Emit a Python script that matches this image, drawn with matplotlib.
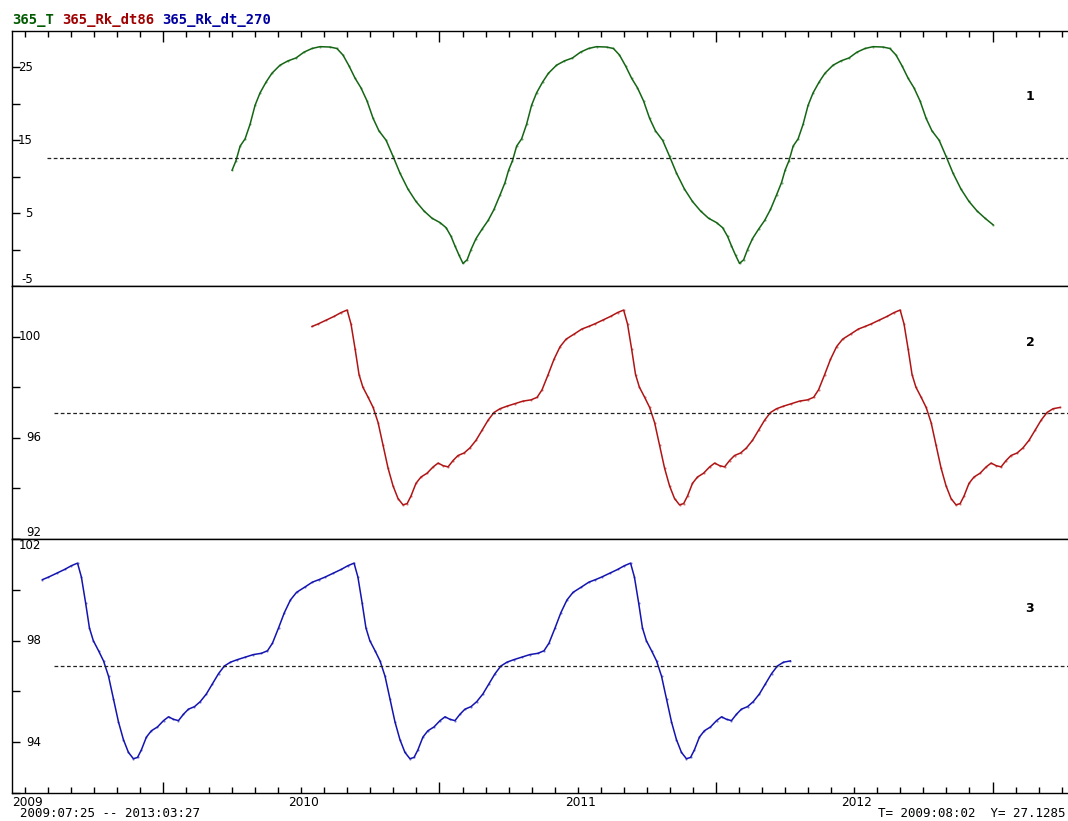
import matplotlib
matplotlib.use("Agg")
import matplotlib.pyplot as plt
import matplotlib.transforms as mtransforms
from matplotlib.ticker import FixedLocator, NullFormatter
import numpy as np

# ---------------- data ----------------
SERIES_NAMES = ["365_T", "365_Rk_dt86", "365_Rk_dt_270"]

T_TIME = [
    2009.796, 2009.810, 2009.825, 2009.843, 2009.861, 2009.879, 2009.897, 2009.919, 2009.940, 2009.969,
    2009.998, 2010.027, 2010.056, 2010.085, 2010.114, 2010.150, 2010.175, 2010.197, 2010.219, 2010.241,
    2010.262, 2010.284, 2010.306, 2010.327, 2010.353, 2010.378, 2010.403, 2010.432, 2010.461, 2010.490,
    2010.519, 2010.548, 2010.570, 2010.588, 2010.602, 2010.617, 2010.631, 2010.646, 2010.660, 2010.678,
    2010.700, 2010.722, 2010.743, 2010.765, 2010.783,
    2010.796, 2010.810, 2010.825, 2010.843, 2010.861, 2010.879, 2010.897, 2010.919, 2010.940, 2010.969,
    2010.998, 2011.027, 2011.056, 2011.085, 2011.114, 2011.150, 2011.175, 2011.197, 2011.219, 2011.241,
    2011.262, 2011.284, 2011.306, 2011.327, 2011.353, 2011.378, 2011.403, 2011.432, 2011.461, 2011.490,
    2011.519, 2011.548, 2011.570, 2011.588, 2011.602, 2011.617, 2011.631, 2011.646, 2011.660, 2011.678,
    2011.700, 2011.722, 2011.743, 2011.765, 2011.783,
    2011.796, 2011.810, 2011.825, 2011.843, 2011.861, 2011.879, 2011.897, 2011.919, 2011.940, 2011.969,
    2011.998, 2012.027, 2012.056, 2012.085, 2012.114, 2012.150, 2012.175, 2012.197, 2012.219, 2012.241,
    2012.262, 2012.284, 2012.306, 2012.327, 2012.353, 2012.378, 2012.403, 2012.432, 2012.461, 2012.490,
    2012.519, 2012.548,
]
T_VALUES = [
    10.9, 12.2, 14.2, 15.2, 17.2, 19.8, 21.5, 23.0, 24.2, 25.3,
    25.9, 26.3, 27.1, 27.6, 27.85, 27.8, 27.6, 26.7, 25.2, 23.5,
    22.2, 20.4, 18.0, 16.3, 15.0, 12.8, 10.5, 8.3, 6.6, 5.3,
    4.3, 3.7, 3.0, 1.8, 0.5, -0.8, -1.9, -1.4, 0.0, 1.5,
    2.8, 4.0, 5.5, 7.5, 9.2,
    10.9, 12.2, 14.2, 15.2, 17.2, 19.8, 21.5, 23.0, 24.2, 25.3,
    25.9, 26.3, 27.1, 27.6, 27.85, 27.8, 27.6, 26.7, 25.2, 23.5,
    22.2, 20.4, 18.0, 16.3, 15.0, 12.8, 10.5, 8.3, 6.6, 5.3,
    4.3, 3.7, 3.0, 1.8, 0.5, -0.8, -1.9, -1.4, 0.0, 1.5,
    2.8, 4.0, 5.5, 7.5, 9.2,
    10.9, 12.2, 14.2, 15.2, 17.2, 19.8, 21.5, 23.0, 24.2, 25.3,
    25.9, 26.3, 27.1, 27.6, 27.85, 27.8, 27.6, 26.7, 25.2, 23.5,
    22.2, 20.4, 18.0, 16.3, 15.0, 12.8, 10.5, 8.3, 6.6, 5.3,
    4.3, 3.4,
]

RK86_TIME = [
    2010.085, 2010.107, 2010.136, 2010.165, 2010.190, 2010.212, 2010.226, 2010.241, 2010.255, 2010.269,
    2010.288, 2010.306, 2010.324, 2010.342, 2010.360, 2010.378, 2010.396, 2010.414, 2010.429, 2010.443,
    2010.461, 2010.479, 2010.501, 2010.523, 2010.541, 2010.559, 2010.577, 2010.595, 2010.613, 2010.635,
    2010.656, 2010.678, 2010.700, 2010.722, 2010.743, 2010.765, 2010.790, 2010.819, 2010.848, 2010.877,
    2010.899, 2010.917, 2010.939, 2010.960, 2010.982, 2011.004, 2011.033, 2011.061,
    2011.085, 2011.107, 2011.136, 2011.165, 2011.190, 2011.212, 2011.226, 2011.241, 2011.255, 2011.269,
    2011.288, 2011.306, 2011.324, 2011.342, 2011.360, 2011.378, 2011.396, 2011.414, 2011.429, 2011.443,
    2011.461, 2011.479, 2011.501, 2011.523, 2011.541, 2011.559, 2011.577, 2011.595, 2011.613, 2011.635,
    2011.656, 2011.678, 2011.700, 2011.722, 2011.743, 2011.765, 2011.790, 2011.819, 2011.848, 2011.877,
    2011.899, 2011.917, 2011.939, 2011.960, 2011.982, 2012.004, 2012.033, 2012.061,
    2012.085, 2012.107, 2012.136, 2012.165, 2012.190, 2012.212, 2012.226, 2012.241, 2012.255, 2012.269,
    2012.288, 2012.306, 2012.324, 2012.342, 2012.360, 2012.378, 2012.396, 2012.414, 2012.429, 2012.443,
    2012.461, 2012.479, 2012.501, 2012.523, 2012.541, 2012.559, 2012.577, 2012.595, 2012.613, 2012.635,
    2012.656, 2012.678, 2012.700, 2012.722, 2012.743, 2012.765, 2012.790,
]
RK86_VALUES = [
    100.4, 100.5, 100.65, 100.8, 100.95, 101.05, 100.5, 99.5, 98.5, 98.0,
    97.6, 97.2, 96.6, 95.7, 94.8, 94.1, 93.6, 93.35, 93.4, 93.7,
    94.2, 94.45, 94.6, 94.85, 95.0, 94.9, 94.85, 95.1, 95.3, 95.4,
    95.6, 95.9, 96.3, 96.7, 97.0, 97.15, 97.25, 97.35, 97.45, 97.5,
    97.6, 97.9, 98.5, 99.1, 99.6, 99.9, 100.1, 100.3,
    100.4, 100.5, 100.65, 100.8, 100.95, 101.05, 100.5, 99.5, 98.5, 98.0,
    97.6, 97.2, 96.6, 95.7, 94.8, 94.1, 93.6, 93.35, 93.4, 93.7,
    94.2, 94.45, 94.6, 94.85, 95.0, 94.9, 94.85, 95.1, 95.3, 95.4,
    95.6, 95.9, 96.3, 96.7, 97.0, 97.15, 97.25, 97.35, 97.45, 97.5,
    97.6, 97.9, 98.5, 99.1, 99.6, 99.9, 100.1, 100.3,
    100.4, 100.5, 100.65, 100.8, 100.95, 101.05, 100.5, 99.5, 98.5, 98.0,
    97.6, 97.2, 96.6, 95.7, 94.8, 94.1, 93.6, 93.35, 93.4, 93.7,
    94.2, 94.45, 94.6, 94.85, 95.0, 94.9, 94.85, 95.1, 95.3, 95.4,
    95.6, 95.9, 96.3, 96.7, 97.0, 97.15, 97.2,
]

RK270_TIME = [
    2009.110, 2009.132, 2009.161, 2009.190, 2009.215, 2009.237, 2009.251, 2009.266, 2009.280, 2009.294,
    2009.313, 2009.331, 2009.349, 2009.367, 2009.385, 2009.403, 2009.421, 2009.439, 2009.454, 2009.468,
    2009.486, 2009.504, 2009.526, 2009.548, 2009.566, 2009.584, 2009.602, 2009.620, 2009.638, 2009.660,
    2009.681, 2009.703, 2009.725, 2009.747, 2009.768, 2009.790, 2009.815, 2009.844, 2009.873, 2009.902,
    2009.924, 2009.942, 2009.964, 2009.985, 2010.007, 2010.029, 2010.058, 2010.086,
    2010.110, 2010.132, 2010.161, 2010.190, 2010.215, 2010.237, 2010.251, 2010.266, 2010.280, 2010.294,
    2010.313, 2010.331, 2010.349, 2010.367, 2010.385, 2010.403, 2010.421, 2010.439, 2010.454, 2010.468,
    2010.486, 2010.504, 2010.526, 2010.548, 2010.566, 2010.584, 2010.602, 2010.620, 2010.638, 2010.660,
    2010.681, 2010.703, 2010.725, 2010.747, 2010.768, 2010.790, 2010.815, 2010.844, 2010.873, 2010.902,
    2010.924, 2010.942, 2010.964, 2010.985, 2011.007, 2011.029, 2011.058, 2011.086,
    2011.110, 2011.132, 2011.161, 2011.190, 2011.215, 2011.237, 2011.251, 2011.266, 2011.280, 2011.294,
    2011.313, 2011.331, 2011.349, 2011.367, 2011.385, 2011.403, 2011.421, 2011.439, 2011.454, 2011.468,
    2011.486, 2011.504, 2011.526, 2011.548, 2011.566, 2011.584, 2011.602, 2011.620, 2011.638, 2011.660,
    2011.681, 2011.703, 2011.725, 2011.747, 2011.768, 2011.790, 2011.815,
]
RK270_VALUES = [
    100.4, 100.5, 100.65, 100.8, 100.95, 101.05, 100.5, 99.5, 98.5, 98.0,
    97.6, 97.2, 96.6, 95.7, 94.8, 94.1, 93.6, 93.35, 93.4, 93.7,
    94.2, 94.45, 94.6, 94.85, 95.0, 94.9, 94.85, 95.1, 95.3, 95.4,
    95.6, 95.9, 96.3, 96.7, 97.0, 97.15, 97.25, 97.35, 97.45, 97.5,
    97.6, 97.9, 98.5, 99.1, 99.6, 99.9, 100.1, 100.3,
    100.4, 100.5, 100.65, 100.8, 100.95, 101.05, 100.5, 99.5, 98.5, 98.0,
    97.6, 97.2, 96.6, 95.7, 94.8, 94.1, 93.6, 93.35, 93.4, 93.7,
    94.2, 94.45, 94.6, 94.85, 95.0, 94.9, 94.85, 95.1, 95.3, 95.4,
    95.6, 95.9, 96.3, 96.7, 97.0, 97.15, 97.25, 97.35, 97.45, 97.5,
    97.6, 97.9, 98.5, 99.1, 99.6, 99.9, 100.1, 100.3,
    100.4, 100.5, 100.65, 100.8, 100.95, 101.05, 100.5, 99.5, 98.5, 98.0,
    97.6, 97.2, 96.6, 95.7, 94.8, 94.1, 93.6, 93.35, 93.4, 93.7,
    94.2, 94.45, 94.6, 94.85, 95.0, 94.9, 94.85, 95.1, 95.3, 95.4,
    95.6, 95.9, 96.3, 96.7, 97.0, 97.15, 97.2,
]

MEAN_LEVELS = [12.6, 97.0, 97.0]
MEAN_START = [2009.127, 2009.152, 2009.152]

Y_LIMITS = [(-5, 30), (92, 102), (92, 102)]
Y_TICKS = [[-5, 0, 5, 10, 15, 20, 25], [92, 94, 96, 98, 100], [92, 94, 96, 98, 100, 102]]
Y_LABELS = [[25, 15, 5, -5], [100, 96, 92], [102, 98, 94]]
PANEL_IDS = ["1", "2", "3"]

YEAR_LABELS = [2009, 2010, 2011, 2012]
X_LIMITS = (2009.0, 2012.819)
MAJOR_TICKS = [2009.546, 2010.546, 2011.546, 2012.546]

RANGE_TEXT = "2009:07:25 -- 2013:03:27"
CURSOR_TEXT = "T= 2009:08:02  Y= 27.1285"

LINE_COLORS = ["#146614", "#b01414", "#1414b0"]
LABEL_COLORS = ["#005a00", "#a00000", "#0000a0"]

# ---------------- figure ----------------
W, H = 1068, 821
fig = plt.figure(figsize=(W / 100, H / 100), dpi=100)
fig.patch.set_facecolor("white")

def fx(px):
    return px / W

def fy(py):
    return 1 - py / H

LEFT = 12
edges = [31, 286, 539, 793]
series = [(T_TIME, T_VALUES), (RK86_TIME, RK86_VALUES), (RK270_TIME, RK270_VALUES)]
label_right_px = [33, 41, 41]
panel_label_y = [96, 342, 608]

minor_ticks = [m for m in np.arange(2009.046, X_LIMITS[1], 1 / 12)
               if min(abs(m - M) for M in MAJOR_TICKS) > 0.01]

axes = []
for i in range(3):
    top, bot = edges[i], edges[i + 1]
    ax = fig.add_axes([fx(LEFT), fy(bot), 1 - fx(LEFT), (bot - top) / H])
    axes.append(ax)
    ax.set_xlim(*X_LIMITS)
    ax.set_ylim(*Y_LIMITS[i])
    ax.spines["right"].set_visible(False)
    for s in ["left", "top", "bottom"]:
        ax.spines[s].set_linewidth(1.0)
        ax.spines[s].set_color("black")

    t, v = series[i]
    ax.plot(t, v, color=LINE_COLORS[i], lw=1.1, solid_joinstyle="round")
    ax.plot(t, v, ".", color=LINE_COLORS[i], ms=1.2, alpha=0.5)

    ax.hlines(MEAN_LEVELS[i], MEAN_START[i], X_LIMITS[1], colors="#222222",
              linestyles=(0, (3, 2)), lw=0.9)

    ax.yaxis.set_major_locator(FixedLocator(Y_TICKS[i]))
    ax.yaxis.set_major_formatter(NullFormatter())
    ax.tick_params(axis="y", direction="in", length=6, width=1, left=True, right=False)

    ax.xaxis.set_major_locator(FixedLocator(MAJOR_TICKS))
    ax.xaxis.set_minor_locator(FixedLocator(minor_ticks))
    ax.xaxis.set_major_formatter(NullFormatter())
    ax.xaxis.set_minor_formatter(NullFormatter())
    ax.tick_params(axis="x", which="major", direction="in", length=8, width=1,
                   top=(i == 0), bottom=(i == 2))
    ax.tick_params(axis="x", which="minor", direction="in", length=4, width=1,
                   top=(i == 0), bottom=(i == 2))

    # y tick labels drawn inside
    trans = mtransforms.blended_transform_factory(ax.transAxes, ax.transData)
    xr = (label_right_px[i] - LEFT) / (W - LEFT)
    lo, hi = Y_LIMITS[i]
    for val in Y_LABELS[i]:
        va = "center"
        if val == lo:
            va = "bottom"
        elif val == hi:
            va = "top"
        ax.text(xr, val, str(val), transform=trans, ha="right", va=va,
                fontsize=8.5, family="DejaVu Sans", color="black")

    fig.text(fx(1030), fy(panel_label_y[i]), PANEL_IDS[i], ha="center", va="center",
             fontsize=9, fontweight="bold", family="DejaVu Sans")

# year labels under the bottom axis
ax3 = axes[2]
trans3 = mtransforms.blended_transform_factory(ax3.transData, ax3.transAxes)
for yr in YEAR_LABELS:
    ax3.text(yr, -2.5 / 254, str(yr), transform=trans3, ha="left", va="top",
             fontsize=8.7, family="DejaVu Sans", clip_on=False)

fig.text(fx(20), fy(813), RANGE_TEXT, ha="left", va="center",
         fontsize=9, family="DejaVu Sans Mono")
fig.text(fx(1065), fy(813), CURSOR_TEXT, ha="right", va="center",
         fontsize=9, family="DejaVu Sans Mono")

# top series labels
char_px = 10 * 0.602 * 100 / 72
offset = 0
for name, col in zip(SERIES_NAMES, LABEL_COLORS):
    fig.text(fx(LEFT + offset * char_px), fy(20), name, ha="left", va="center",
             fontsize=10, fontweight="bold", family="DejaVu Sans Mono", color=col)
    offset += len(name) + 1

fig.savefig("out.png", dpi=100)
